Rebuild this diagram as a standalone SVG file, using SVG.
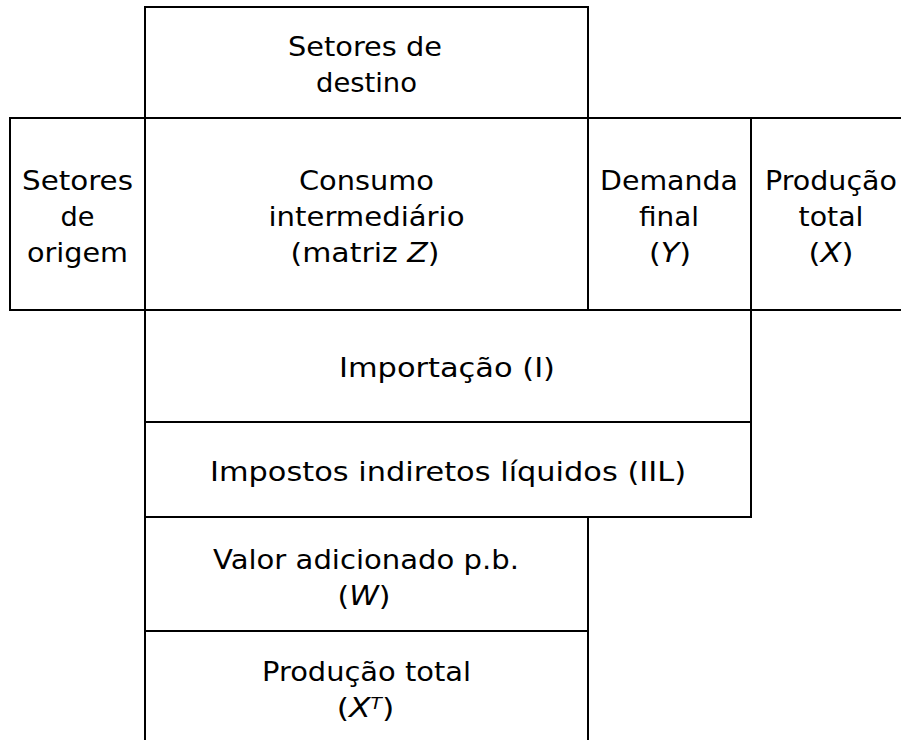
<svg xmlns="http://www.w3.org/2000/svg" width="901" height="740" viewBox="0 0 901 740">
<style>
.ln{stroke:#000;stroke-width:2;fill:none;stroke-linecap:square}
text{font-family:"DejaVu Sans",Verdana,sans-serif;font-size:27px;fill:#000;text-anchor:middle}
.it{font-style:italic}
</style>
<rect width="901" height="740" fill="#fff"/>
<g id="connectors">
<line class="ln" x1="145" y1="7" x2="145" y2="741"/>
<line class="ln" x1="145" y1="7" x2="588" y2="7"/>
<line class="ln" x1="588" y1="7" x2="588" y2="310"/>
<line class="ln" x1="10" y1="118" x2="902" y2="118"/>
<line class="ln" x1="10" y1="118" x2="10" y2="310"/>
<line class="ln" x1="10" y1="310" x2="902" y2="310"/>
<line class="ln" x1="751" y1="118" x2="751" y2="517"/>
<line class="ln" x1="145" y1="422" x2="751" y2="422"/>
<line class="ln" x1="145" y1="517" x2="751" y2="517"/>
<line class="ln" x1="588" y1="517" x2="588" y2="741"/>
<line class="ln" x1="145" y1="631" x2="588" y2="631"/>
</g>
<g id="destino">
<text x="365" y="56" textLength="154" lengthAdjust="spacingAndGlyphs">Setores de</text>
<text x="366.5" y="92" textLength="101" lengthAdjust="spacingAndGlyphs">destino</text>
</g>
<g id="origem">
<text x="77.5" y="190" textLength="111" lengthAdjust="spacingAndGlyphs">Setores</text>
<text x="77.5" y="226" textLength="34" lengthAdjust="spacingAndGlyphs">de</text>
<text x="77.5" y="262" textLength="101" lengthAdjust="spacingAndGlyphs">origem</text>
</g>
<g id="consumo">
<text x="366.5" y="190" textLength="135" lengthAdjust="spacingAndGlyphs">Consumo</text>
<text x="366.5" y="226" textLength="196" lengthAdjust="spacingAndGlyphs">intermediário</text>
<text x="365" y="262" textLength="149" lengthAdjust="spacingAndGlyphs">(matriz <tspan class="it">Z</tspan>)</text>
</g>
<g id="demanda">
<text x="669" y="190" textLength="138" lengthAdjust="spacingAndGlyphs">Demanda</text>
<text x="669" y="226" textLength="60" lengthAdjust="spacingAndGlyphs">final</text>
<text x="670" y="262" textLength="42" lengthAdjust="spacingAndGlyphs">(<tspan class="it">Y</tspan>)</text>
</g>
<g id="producao-x">
<text x="831" y="190" textLength="132" lengthAdjust="spacingAndGlyphs">Produção</text>
<text x="831" y="226" textLength="65" lengthAdjust="spacingAndGlyphs">total</text>
<text x="831" y="262" textLength="45" lengthAdjust="spacingAndGlyphs">(<tspan class="it">X</tspan>)</text>
</g>
<g id="importacao">
<text x="447" y="377" textLength="216" lengthAdjust="spacingAndGlyphs">Importação (I)</text>
</g>
<g id="impostos">
<text x="448" y="481" textLength="476" lengthAdjust="spacingAndGlyphs">Impostos indiretos líquidos (IIL)</text>
</g>
<g id="valor">
<text x="366" y="569" textLength="306" lengthAdjust="spacingAndGlyphs">Valor adicionado p.b.</text>
<text x="364" y="605" textLength="53" lengthAdjust="spacingAndGlyphs">(<tspan class="it">W</tspan>)</text>
</g>
<g id="producao-xt">
<text x="366.5" y="681" textLength="209" lengthAdjust="spacingAndGlyphs">Produção total</text>
<text transform="matrix(1.17 0 0 1 365.5 0)" x="0" y="717">(<tspan class="it">X</tspan><tspan class="it" font-size="16" dy="-8">T</tspan><tspan dy="8">)</tspan></text>
</g>
</svg>
